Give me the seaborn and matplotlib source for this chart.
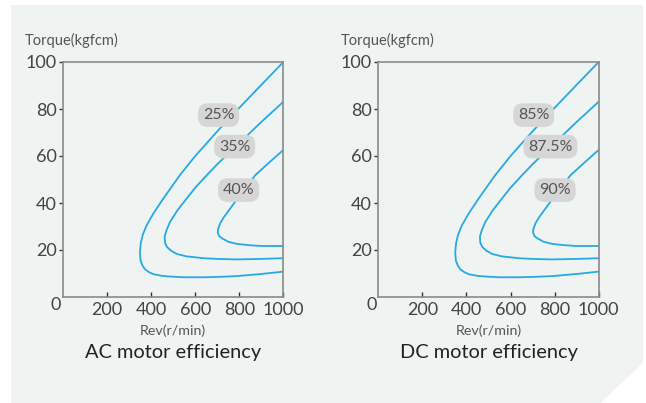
import matplotlib
matplotlib.use("Agg")
import matplotlib.pyplot as plt
from matplotlib.patches import Polygon
import seaborn as sns
import pandas as pd

# ---- data ----
outer_x = [1000, 900, 800, 700, 600, 530, 456, 410, 380, 362, 353, 349, 352, 360, 372, 390, 410, 450, 486, 550, 638, 720, 789, 900, 1000]
outer_y = [100, 90.3, 80.5, 70.5, 60, 51.8, 42, 35.5, 30.6, 26.5, 23, 19, 15.5, 13.5, 11.8, 10.6, 9.7, 9.0, 8.7, 8.4, 8.4, 8.6, 8.9, 9.8, 10.8]
middle_x = [1000, 900, 800, 700, 653, 600, 562, 520, 486, 470, 461, 463, 471, 490, 517, 560, 638, 700, 789, 900, 1000]
middle_y = [83.1, 74.5, 65.5, 56.5, 51.9, 46.5, 42, 37, 32, 28.5, 25.7, 23, 21.4, 19.7, 18.3, 17.3, 16.5, 16.2, 16.0, 16.2, 16.5]
inner_x = [1000, 940, 873, 820, 759, 730, 714, 704, 702, 708, 721, 750, 789, 850, 900, 1000]
inner_y = [62.6, 57.6, 51.9, 45.5, 37.7, 34, 31.5, 29, 27.5, 26, 25, 23.5, 22.6, 22, 21.7, 21.7]

ac_labels = ["25%", "35%", "40%"]
dc_labels = ["85%", "87.5%", "90%"]
ac_label_x = [706, 779, 797]
dc_label_x = [705, 781, 802]
label_y = [77.4, 64.0, 45.5]

x_ticks = [200, 400, 600, 800, 1000]
y_ticks = [20, 40, 60, 80, 100]
titles = ["AC motor efficiency", "DC motor efficiency"]

# ---- style ----
sns.set_theme(style="white")
plt.rcParams["font.family"] = ["Lato", "DejaVu Sans"]

W, H = 646, 403
fig = plt.figure(figsize=(W / 100, H / 100), dpi=100)
fig.patch.set_facecolor("white")

def fx(px):
    return px / W

def fy(py):
    return 1 - py / H

panel = Polygon([(fx(11), fy(5)), (fx(643), fy(5)), (fx(643), fy(363)),
                 (fx(600), fy(403)), (fx(11), fy(403))],
                closed=True, transform=fig.transFigure, facecolor="#eff3f2",
                edgecolor="none", zorder=-10)
fig.patches.append(panel)

line_color = "#27aae1"
curves = [(outer_x, outer_y), (middle_x, middle_y), (inner_x, inner_y)]

axes_left = [63, 378.3]
for i, left in enumerate(axes_left):
    ax = fig.add_axes([fx(left), fy(297), 220.4 / W, 235 / H])
    ax.set_facecolor("none")
    for cx, cy in curves:
        df = pd.DataFrame({"rev": cx, "torque": cy})
        sns.lineplot(data=df, x="rev", y="torque", sort=False, estimator=None,
                     color=line_color, linewidth=1.3, ax=ax)
    labs = ac_labels if i == 0 else dc_labels
    lxs = ac_label_x if i == 0 else dc_label_x
    for t, lx, ly in zip(labs, lxs, label_y):
        ax.text(lx, ly, t, ha="center", va="center", fontsize=11.5, color="#555555",
                zorder=5,
                bbox=dict(boxstyle="round,pad=0.3,rounding_size=0.6",
                          fc="#d6d6d6", ec="none"))
    ax.set_xlim(0, 1000)
    ax.set_ylim(0, 100)
    ax.set_xticks(x_ticks)
    ax.set_yticks(y_ticks)
    ax.set_xticklabels([str(v) for v in x_ticks])
    ax.set_yticklabels([str(v) for v in y_ticks])
    ax.set_xlabel("")
    ax.set_ylabel("")
    ax.tick_params(axis="x", direction="in", length=3.5, width=1, color="#333333",
                   labelsize=13, labelcolor="#444444", pad=3.5, bottom=True)
    ax.tick_params(axis="y", direction="out", length=3, width=1, color="#333333",
                   labelsize=13, labelcolor="#444444", pad=1.5, left=True)
    for s in ax.spines.values():
        s.set_color("#8a8a8a")
        s.set_linewidth(1.2)
        s.set_visible(True)
    ax.annotate("0", xy=(0, 0), xycoords="axes fraction", xytext=(-7, -8),
                textcoords="offset pixels", ha="center", va="center",
                fontsize=13, color="#444444")
    # axis titles
    fig.text(fx(left - 38), fy(40), "Torque(kgfcm)", ha="left", va="center",
             fontsize=10.5, color="#555555")
    cx_mid = left + 110.2
    fig.text(fx(cx_mid), fy(330.7), "Rev(r/min)", ha="center", va="center",
             fontsize=10.3, color="#555555")
    fig.text(fx(cx_mid), fy(352.7), titles[i], ha="center", va="center",
             fontsize=14.4, color="#222222")

fig.savefig("out.png", dpi=100)
